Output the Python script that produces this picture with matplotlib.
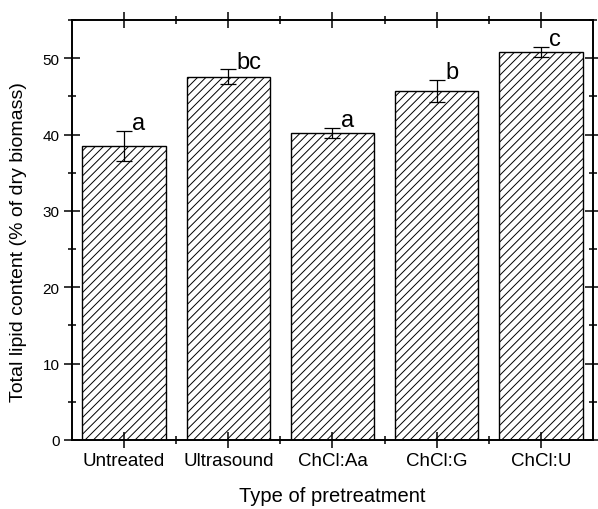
import numpy as np
import matplotlib
matplotlib.use('Agg')
from matplotlib import pyplot as plt
from matplotlib.ticker import MultipleLocator

# dados
categorias = ['Untreated', 'Ultrasound', 'ChCl:Aa', 'ChCl:G', 'ChCl:U']
lipidios = [38.5, 47.6, 40.2, 45.7, 50.8]
erros = [2.0, 0.95, 0.65, 1.45, 0.7]
letras = ['a', 'bc', 'a', 'b', 'c']

plt.rcParams['font.family'] = ['Liberation Sans', 'DejaVu Sans']
plt.rcParams['hatch.linewidth'] = 0.7

fig = plt.figure(figsize=(5.98, 5.10), dpi=100)
ax = fig.add_axes([0.1204, 0.1353, 0.8712, 0.8235])

x = np.arange(len(categorias))
ax.bar(x, lipidios, width=0.8, color='white', edgecolor='black',
       linewidth=1.0, hatch='////')
ax.errorbar(x, lipidios, yerr=erros, fmt='none', ecolor='black',
            elinewidth=0.9, capsize=6, capthick=0.9)

# letras
for xi, v, e, l in zip(x, lipidios, erros, letras):
    ax.text(xi + 0.08, v + e + 1.0, l, fontsize=17, ha='left', va='center')

ax.set_xlim(-0.5, 4.5)
ax.set_ylim(0, 55)
ax.set_xticks(x)
ax.set_xticklabels(categorias, fontsize=13.5)
ax.set_xticks(x[:-1] + 0.5, minor=True)
ax.yaxis.set_major_locator(MultipleLocator(10))
ax.yaxis.set_minor_locator(MultipleLocator(5))
ax.tick_params(axis='y', labelsize=11)
ax.tick_params(which='major', direction='inout', length=12, width=1.1,
               top=True, right=True, pad=3)
ax.tick_params(which='minor', direction='inout', length=6, width=1.1,
               top=True, right=True)
ax.tick_params(axis='x', which='major', pad=3)

for s in ax.spines.values():
    s.set_linewidth(1.4)

ax.set_xlabel('Type of pretreatment', fontsize=14.5, labelpad=12)
ax.set_ylabel('Total lipid content (% of dry biomass)', fontsize=14)
ax.yaxis.set_label_coords(-0.086, 0.474)

fig.savefig('out.png', dpi=100)
